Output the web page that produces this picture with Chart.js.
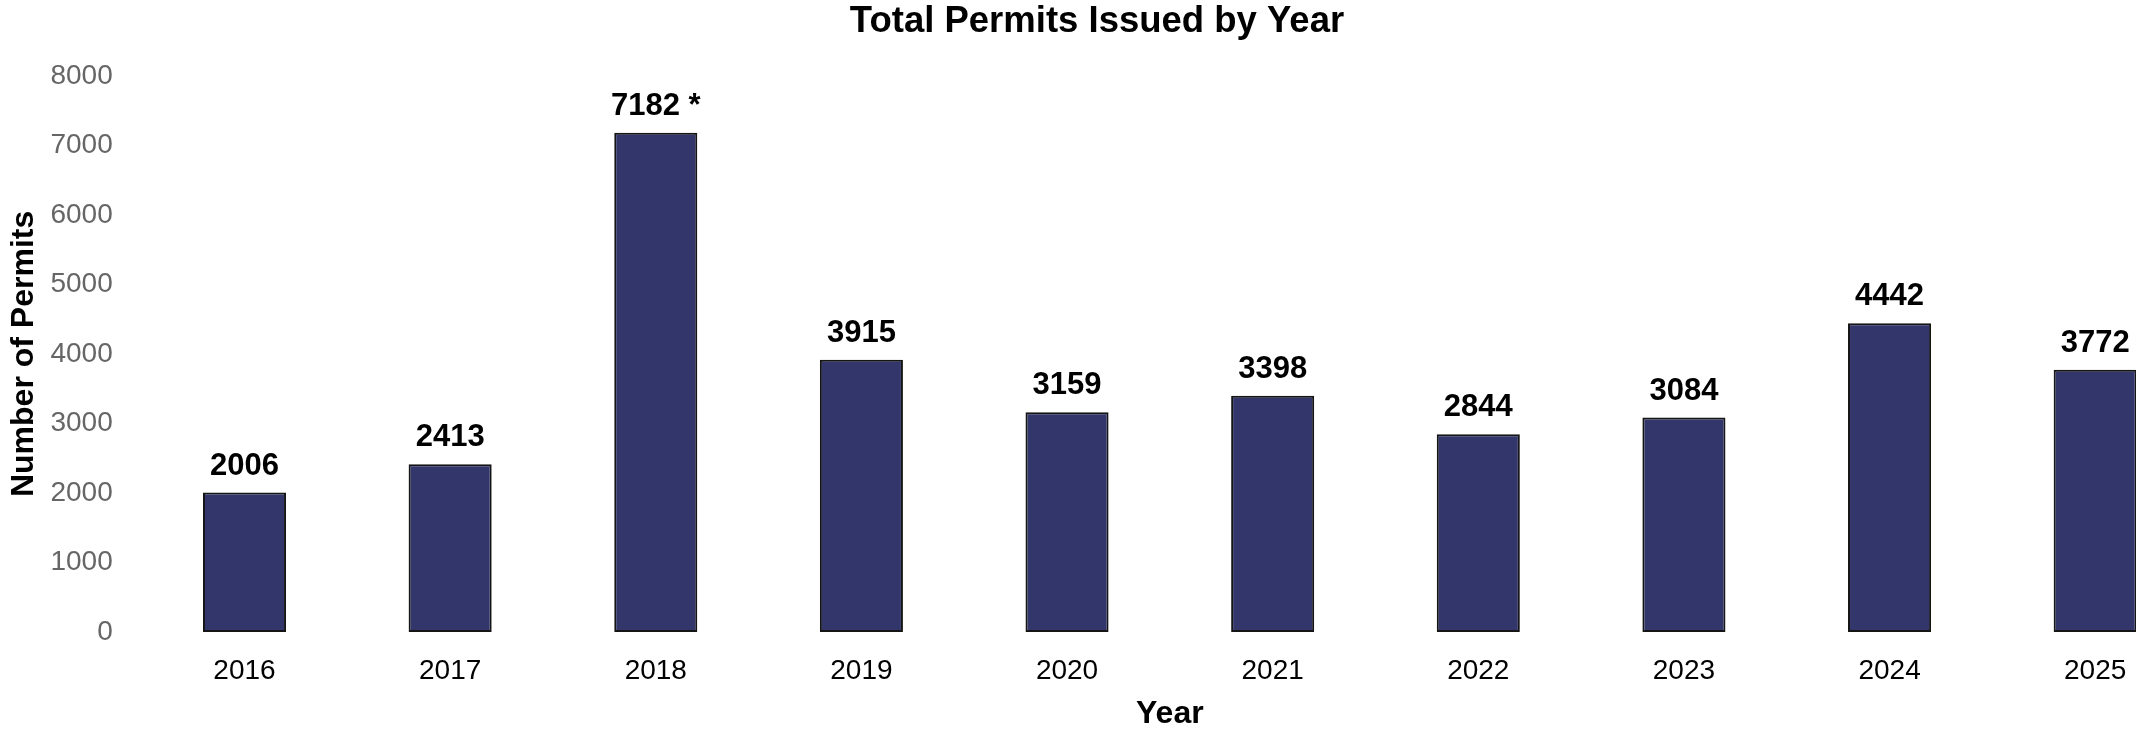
<!DOCTYPE html>
<html>
<head>
<meta charset="utf-8">
<script src="https://cdn.jsdelivr.net/npm/chart.js@4/dist/chart.umd.min.js"></script>
<style>
  html, body { margin: 0; padding: 0; background: #ffffff; overflow: hidden; width: 2136px; height: 731px; }
  #wrap { position: absolute; left: -4px; top: 0; width: 2202px; height: 731px; }
  canvas { display: block; background: #ffffff; }
</style>
</head>
<body>
<div id="wrap"><canvas id="c"></canvas></div>
<script>
// ---- data ----
const years = ['2016', '2017', '2018', '2019', '2020', '2021', '2022', '2023', '2024', '2025'];
const permits = [2006, 2413, 7182, 3915, 3159, 3398, 2844, 3084, 4442, 3772];
const labelNotes = ['', '', ' *', '', '', '', '', '', '', ''];
const yMin = 0;
const yMax = 8000;
const yStep = 1000;
const chartTitle = 'Total Permits Issued by Year';
const xTitle = 'Year';
const yTitle = 'Number of Permits';

const FONT = "'Liberation Sans', Arial, sans-serif";

const valueLabels = {
  id: 'valueLabels',
  afterDatasetsDraw(chart) {
    const ctx = chart.ctx;
    const meta = chart.getDatasetMeta(0);
    ctx.save();
    ctx.font = 'bold 31px ' + FONT;
    ctx.fillStyle = '#000000';
    ctx.textAlign = 'center';
    ctx.textBaseline = 'alphabetic';
    meta.data.forEach((bar, i) => {
      const txt = String(permits[i]) + labelNotes[i];
      ctx.fillText(txt, bar.x, bar.y - 18);
    });
    ctx.restore();
  }
};

new Chart(document.getElementById('c'), {
  type: 'bar',
  data: {
    labels: years,
    datasets: [{
      data: permits,
      backgroundColor: '#32366B',
      borderColor: '#151515',
      borderWidth: 2,
      borderSkipped: false,
      barPercentage: 0.404,
      categoryPercentage: 1.0
    }]
  },
  options: {
    responsive: true,
    maintainAspectRatio: false,
    devicePixelRatio: 1,
    animation: false,
    layout: { padding: 0 },
    plugins: {
      legend: { display: false },
      tooltip: { enabled: false },
      title: {
        display: true,
        text: chartTitle,
        color: '#000000',
        font: { family: FONT, size: 36.5, weight: 'bold', lineHeight: 1.2 },
        padding: { top: 0, bottom: 32 }
      }
    },
    scales: {
      x: {
        type: 'category',
        offset: true,
        grid: { display: false, drawTicks: false },
        border: { display: false },
        ticks: {
          color: '#000000',
          font: { family: FONT, size: 28, lineHeight: 1.2 },
          padding: 22,
          maxRotation: 0,
          autoSkip: false
        },
        title: {
          display: true,
          text: xTitle,
          color: '#000000',
          font: { family: FONT, size: 32, weight: 'bold', lineHeight: 1.0 },
          padding: { top: 0, bottom: 1 }
        },
        afterFit(scale) { scale.height = 99; }
      },
      y: {
        min: yMin,
        max: yMax,
        grid: { display: false, drawTicks: false },
        border: { display: false },
        ticks: {
          stepSize: yStep,
          color: '#666666',
          font: { family: FONT, size: 28, lineHeight: 1.2 },
          padding: 29,
          callback: (v) => String(v)
        },
        title: {
          display: true,
          text: yTitle,
          color: '#000000',
          font: { family: FONT, size: 32, weight: 'bold', lineHeight: 1.2 },
          padding: { top: 9, bottom: 0 }
        },
        afterFit(scale) { scale.width = 145.7; }
      }
    }
  },
  plugins: [valueLabels]
});
</script>
</body>
</html>
